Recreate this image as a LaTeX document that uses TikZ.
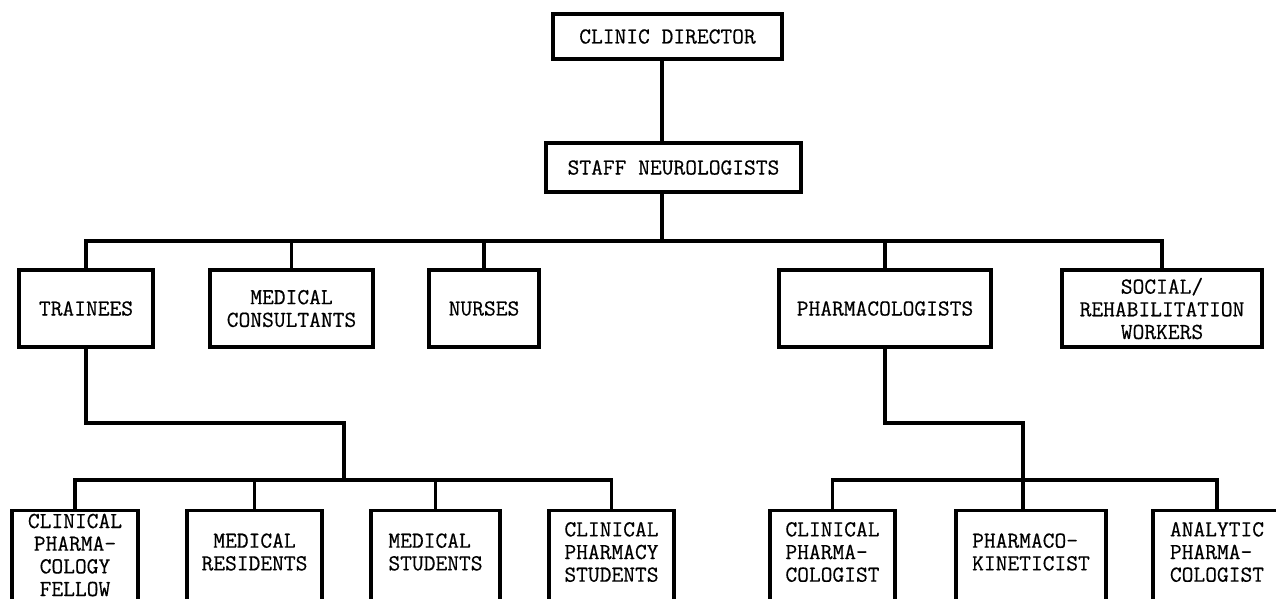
\documentclass[tikz,border=0pt]{standalone}
\usepackage{fontspec}
\usepackage{tikz}
\usetikzlibrary{calc}
\newfontfamily\typefont[FakeBold=0.5]{Latin Modern Mono}
\newcommand{\chartfont}{\typefont\fontsize{13}{12.9}\selectfont}

\begin{document}
\begin{tikzpicture}[x=0.02cm,y=-0.02cm,
    box/.style={draw,line width=1.9pt,rectangle,inner sep=0pt,font=\chartfont,align=center},
    txt/.style={inner sep=0pt,font=\chartfont,align=center},
    link/.style={line width=1.8pt}]
    \useasboundingbox (0,0) rectangle (1276,599);
    \clip (0,0) rectangle (1276,599);
    % head
    \draw (667.5, 36.5) node[box,minimum width=4.58cm,minimum height=0.90cm,name=dir] {CLINIC DIRECTOR};
    \draw (673.5, 167.5) node[box,minimum width=5.10cm,minimum height=0.98cm,name=stf] {STAFF NEUROLOGISTS};
    % middle row
    \draw (86, 308.5) node[box,minimum width=2.68cm,minimum height=1.54cm,name=trn] {TRAINEES};
    \draw (291.5, 308.5) node[box,minimum width=3.26cm,minimum height=1.54cm,name=con] {MEDICAL\\CONSULTANTS};
    \draw (484, 308.5) node[box,minimum width=2.20cm,minimum height=1.54cm,name=nur] {NURSES};
    \draw (885, 308.5) node[box,minimum width=4.24cm,minimum height=1.54cm,name=pha] {PHARMACOLOGISTS};
    \draw (1162, 308.5) node[box,minimum width=4.00cm,minimum height=1.54cm,name=soc] {SOCIAL/\\REHABILITATION\\WORKERS};
    % bottom row (runs off the page)
    \draw (75, 509) node[box,anchor=north,minimum width=2.52cm,minimum height=2.4cm,name=fel] {};
    \draw (254.5, 509) node[box,anchor=north,minimum width=2.70cm,minimum height=2.4cm,name=res] {};
    \draw (435.5, 509) node[box,anchor=north,minimum width=2.58cm,minimum height=2.4cm,name=stu] {};
    \draw (611.5, 509) node[box,anchor=north,minimum width=2.50cm,minimum height=2.4cm,name=cps] {};
    \draw (832.5, 509) node[box,anchor=north,minimum width=2.50cm,minimum height=2.4cm,name=cpg] {};
    \draw (1031, 509) node[box,anchor=north,minimum width=3.00cm,minimum height=2.4cm,name=pkt] {};
    \draw (1217, 509) node[box,anchor=north,minimum width=2.56cm,minimum height=2.4cm,name=apg] {};
    \draw (75, 555) node[txt,name=felt] {CLINICAL\\PHARMA-\\COLOGY\\FELLOW};
    \draw (254.5, 552) node[txt,name=rest] {MEDICAL\\RESIDENTS};
    \draw (435.5, 552) node[txt,align=left,name=stut] {MEDICAL\\STUDENTS};
    \draw (611.5, 552) node[txt,name=cpst] {CLINICAL\\PHARMACY\\STUDENTS};
    \draw (832.5, 552) node[txt,align=left,name=cpgt] {CLINICAL\\PHARMA-\\COLOGIST};
    \draw (1031, 552) node[txt,align=left,name=pktt] {PHARMACO-\\KINETICIST};
    \draw (1217, 552) node[txt,align=left,name=apgt] {ANALYTIC\\PHARMA-\\COLOGIST};
    % lines
    \coordinate (j1) at (662,241);
    \draw[link] (dir.south -| j1) -- (stf.north -| j1);
    \draw[link] (stf.south -| j1) -- (j1);
    \draw[link] (trn.north) -- (trn.north |- j1) -- (soc.north |- j1) -- (soc.north);
    \foreach \n in {con,nur,pha}
        \draw[link] (\n.north) -- (\n.north |- j1);
    \coordinate (j2) at (344,423);
    \coordinate (j3) at (344,480);
    \draw[link] (trn.south) |- (j2) -- (j3);
    \draw[link] (fel.north) -- (fel.north |- j3) -- (cps.north |- j3) -- (cps.north);
    \foreach \n in {res,stu}
        \draw[link] (\n.north) -- (\n.north |- j3);
    \coordinate (j4) at (1023,423);
    \coordinate (j5) at (1023,480);
    \draw[link] (pha.south) |- (j4) -- (j4 |- pkt.north);
    \draw[link] (cpg.north) -- (cpg.north |- j5) -- (apg.north |- j5) -- (apg.north);
\end{tikzpicture}
\end{document}
